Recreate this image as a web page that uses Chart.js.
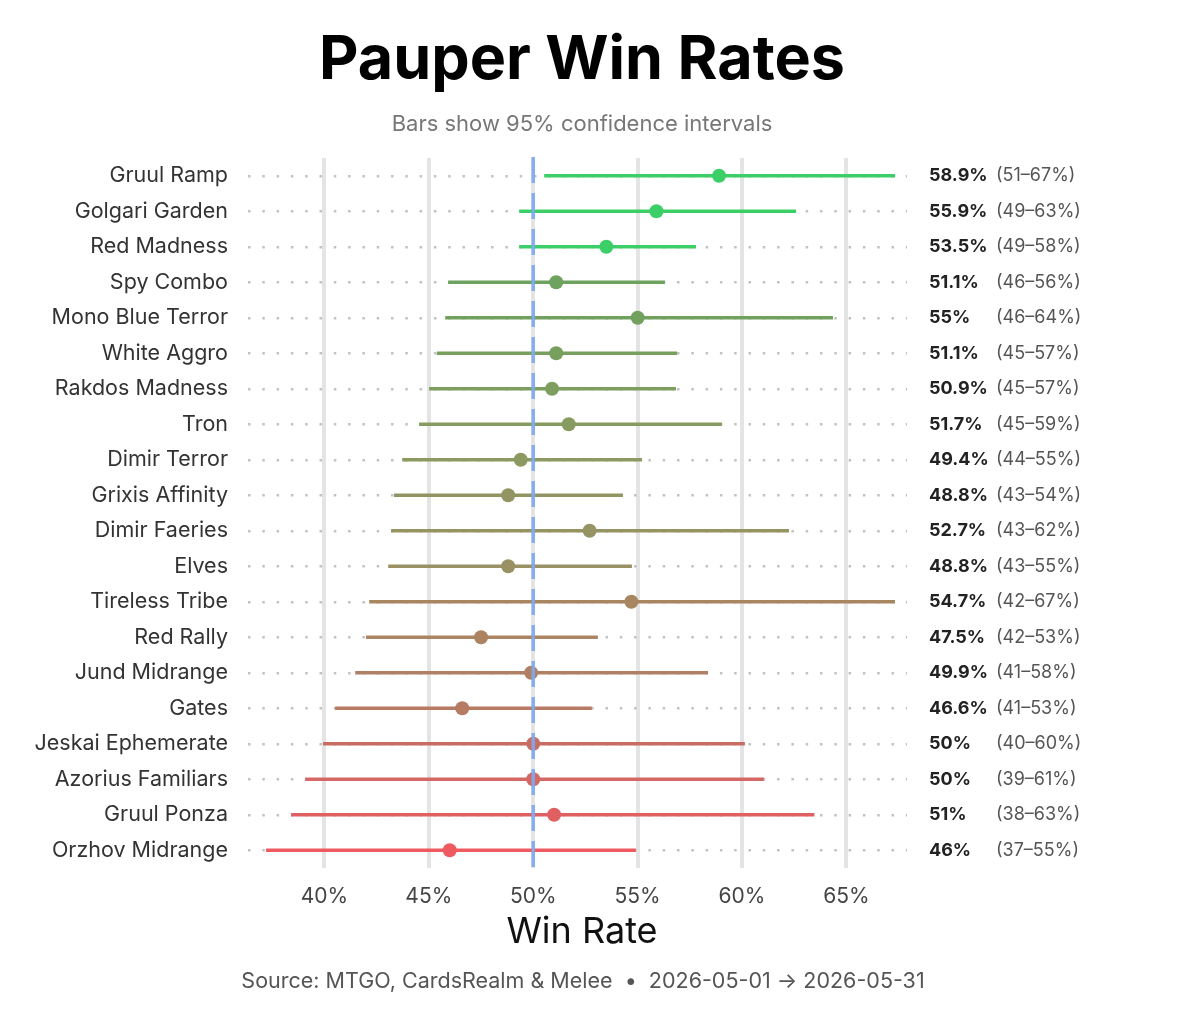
<!DOCTYPE html>
<html>
<head>
<meta charset="utf-8">
<script src="https://cdn.jsdelivr.net/npm/chart.js@4.4.1/dist/chart.umd.min.js"></script>
<style>
  html, body { margin: 0; padding: 0; background: #fff; }
  canvas { display: block; }
</style>
</head>
<body>
<canvas id="chart" width="1200" height="1029"></canvas>
<script>
// data, top row first
const archetypes = [
  "Gruul Ramp", "Golgari Garden", "Red Madness", "Spy Combo", "Mono Blue Terror",
  "White Aggro", "Rakdos Madness", "Tron", "Dimir Terror", "Grixis Affinity",
  "Dimir Faeries", "Elves", "Tireless Tribe", "Red Rally", "Jund Midrange",
  "Gates", "Jeskai Ephemerate", "Azorius Familiars", "Gruul Ponza", "Orzhov Midrange"
];
const winRates = [58.9, 55.9, 53.5, 51.1, 55, 51.1, 50.9, 51.7, 49.4, 48.8,
                  52.7, 48.8, 54.7, 47.5, 49.9, 46.6, 50, 50, 51, 46];
const ciLow = [50.54, 49.34, 49.34, 45.94, 45.8, 45.4, 45.03, 44.55, 43.74, 43.35,
               43.21, 43.07, 42.16, 42.01, 41.49, 40.53, 39.95, 39.09, 38.42, 37.22];
const ciHigh = [67.31, 62.57, 57.78, 56.29, 64.34, 56.87, 56.82, 59.02, 55.19, 54.28,
                62.23, 54.71, 67.31, 53.08, 58.35, 52.79, 60.12, 61.03, 63.45, 54.9];
const rowColors = [
  "#3ccf68", "#3ccf68", "#3ccf68", "#6ea25f", "#72a15f",
  "#77a05e", "#7d9e5e", "#869b5f", "#8c9960", "#929562",
  "#959462", "#999063", "#a88660", "#ac8462", "#af8064",
  "#b67b62", "#c96d62", "#d46864", "#e06062", "#ef5a61"
];
const xTicks = [40, 45, 50, 55, 60, 65];
const xMin = 36.1;
const xMax = 67.9;
const baseline = 50;

const titleText = "Pauper Win Rates";
const subtitleText = "Bars show 95% confidence intervals";
const xTitleText = "Win Rate";
const sourceText = "Source: MTGO, CardsRealm & Melee  \u2022  2026-05-01 \u2192 2026-05-31";

function fmtRate(v) {
  return Number(v.toFixed(1)) + "%";
}
function fmtRange(lo, hi) {
  return "(" + Math.round(lo) + "\u2013" + Math.round(hi) + "%)";
}

// headings, baseline and right-hand labels
const decorPlugin = {
  id: "decor",
  afterDatasetsDraw: function(chart) {
    const ctx = chart.ctx;
    const x = chart.scales.x;
    const area = chart.chartArea;
    const px = x.getPixelForValue(baseline);
    ctx.save();
    ctx.strokeStyle = "rgba(126, 170, 240, 0.92)";
    ctx.lineWidth = 3.5;
    ctx.setLineDash([26, 10]);
    ctx.beginPath();
    ctx.moveTo(px, area.top - 1);
    ctx.lineTo(px, area.bottom);
    ctx.stroke();
    ctx.restore();
  },
  afterDraw: function(chart) {
    const ctx = chart.ctx;
    const y = chart.scales.y;
    const cx = 582;
    ctx.save();
    ctx.textAlign = "center";
    ctx.textBaseline = "middle";
    ctx.fillStyle = "#000";
    ctx.font = "bold 61px Inter";
    ctx.fillText(titleText, cx, 61);
    ctx.fillStyle = "#777";
    ctx.font = "22px Inter";
    ctx.fillText(subtitleText, cx, 124);
    ctx.fillStyle = "#111";
    ctx.font = "36px Inter";
    ctx.fillText(xTitleText, cx, 932);
    ctx.fillStyle = "#555";
    ctx.font = "21.5px Inter";
    ctx.fillText(sourceText, 583, 982);

    ctx.textAlign = "left";
    for (let i = 0; i < archetypes.length; i++) {
      const py = y.getPixelForValue(i);
      ctx.fillStyle = "#222";
      ctx.font = "bold 18px Inter";
      ctx.fillText(fmtRate(winRates[i]), 929, py);
      ctx.fillStyle = "#555";
      ctx.font = "18px Inter";
      ctx.fillText(fmtRange(ciLow[i], ciHigh[i]), 996, py);
    }
    ctx.restore();
  }
};

new Chart(document.getElementById("chart"), {
  type: "bar",
  data: {
    labels: archetypes,
    datasets: [
      {
        type: "line",
        label: "Win rate",
        data: winRates,
        showLine: false,
        pointRadius: 7,
        pointHoverRadius: 7,
        pointBorderWidth: 0,
        pointBackgroundColor: rowColors,
        order: 0
      },
      {
        label: "95% CI",
        data: ciLow.map(function(lo, i){ return [lo, ciHigh[i]]; }),
        backgroundColor: rowColors,
        borderWidth: 0,
        barThickness: 3,
        order: 1
      }
    ]
  },
  options: {
    responsive: false,
    animation: false,
    indexAxis: "y",
    layout: { padding: { top: 158, right: 293, bottom: 0, left: 0 } },
    plugins: {
      legend: { display: false },
      tooltip: { enabled: false }
    },
    scales: {
      x: {
        type: "linear",
        min: xMin,
        max: xMax,
        afterBuildTicks: function(scale) {
          scale.ticks = xTicks.map(function(v){ return { value: v }; });
        },
        afterFit: function(scale) { scale.height = 161; },
        grid: { color: "#e4e4e4", lineWidth: 4, drawTicks: false },
        border: { display: false },
        ticks: {
          padding: 16,
          color: "#444",
          font: { family: "Inter", size: 21 },
          callback: function(v) { return v + "%"; }
        }
      },
      y: {
        type: "category",
        afterFit: function(scale) { scale.width = 243; },
        grid: { offset: false, color: "#c2c2c2", lineWidth: 2.5, drawTicks: false },
        border: { display: false, dash: [2.5, 11.8], dashOffset: -5 },
        ticks: {
          padding: 15,
          color: "#333",
          font: { family: "Inter", size: 21.5 }
        }
      }
    }
  },
  plugins: [decorPlugin]
});
</script>
</body>
</html>
